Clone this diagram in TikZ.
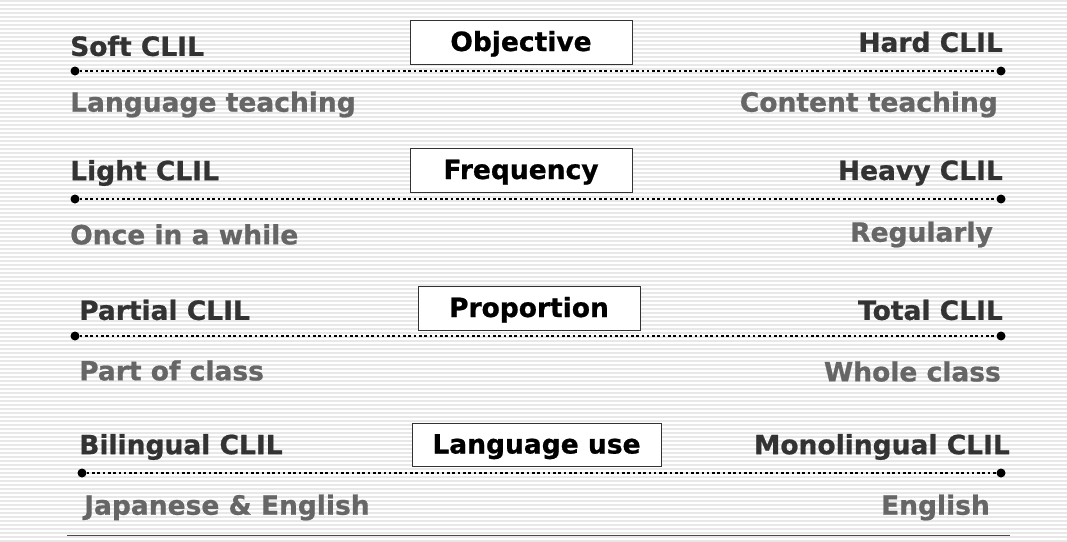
\documentclass[tikz,border=0pt]{standalone}
\usepackage{fontspec}
\setmainfont{DejaVu Sans}[BoldFeatures={FakeBold=0.8}]
\begin{document}
\begin{tikzpicture}[x=1pt,y=-1pt,
  lbl/.style={font=\bfseries\fontsize{26.5}{30}\selectfont, text=black!80, inner sep=0pt, yshift=-2pt},
  sub/.style={font=\bfseries\fontsize{26.5}{30}\selectfont, text=black!60, inner sep=0pt, yshift=-2.5pt},
  cat/.style={draw=black!80, line width=0.8pt, fill=white, font=\bfseries\fontsize{26.5}{30}\selectfont, text=black, inner sep=0pt, text depth=0pt, text height=18pt},
  dotline/.style={line width=2.6pt, dash pattern=on 2.6pt off 2.7pt, black},
  enddot/.style={circle, fill=black, inner sep=0pt, minimum size=9pt}]
\useasboundingbox (0,0) rectangle (1067,541);
\fill[white] (0,0) rectangle (1067,541);
\foreach \i in {0,...,135} {
  \draw[black!9, line width=1.5pt] (0,\i*4+1) -- (1067,\i*4+1);
}
% Row 1
\node[cat, minimum width=222pt, minimum height=44pt] (b1) at (521,42) {Objective};
\node[lbl, anchor=west] (l1) at (70,44) {Soft CLIL};
\node[lbl, anchor=east] (r1) at (1003,40) {Hard CLIL};
\node[enddot] (a1) at (75,71) {};
\node[enddot] (e1) at (1001,71) {};
\draw[dotline] (a1) -- (e1);
\node[sub, anchor=west] (s1) at (70,102) {Language teaching};
\node[sub, anchor=east] (t1) at (998,102) {Content teaching};
% Row 2
\node[cat, minimum width=222pt, minimum height=44pt] (b2) at (521,170) {Frequency};
\node[lbl, anchor=west] (l2) at (70,171) {Light CLIL};
\node[lbl, anchor=east] (r2) at (1003,171) {Heavy CLIL};
\node[enddot] (a2) at (75,199) {};
\node[enddot] (e2) at (1001,199) {};
\draw[dotline] (a2) -- (e2);
\node[sub, anchor=west] (s2) at (70,232) {Once in a while};
\node[sub, anchor=east] (t2) at (993,232) {Regularly};
% Row 3
\node[cat, minimum width=222pt, minimum height=44pt] (b3) at (529,308) {Proportion};
\node[lbl, anchor=west] (l3) at (79,308) {Partial CLIL};
\node[lbl, anchor=east] (r3) at (1003,308) {Total CLIL};
\node[enddot] (a3) at (75,336) {};
\node[enddot] (e3) at (1001,336) {};
\draw[dotline] (a3) -- (e3);
\node[sub, anchor=west] (s3) at (79,368) {Part of class};
\node[sub, anchor=east] (t3) at (1001,369) {Whole class};
% Row 4
\node[cat, minimum width=249pt, minimum height=43pt] (b4) at (536.5,444.5) {Language use};
\node[lbl, anchor=west] (l4) at (79,445) {Bilingual CLIL};
\node[lbl, anchor=east] (r4) at (1010,445) {Monolingual CLIL};
\node[enddot] (a4) at (82,473) {};
\node[enddot] (e4) at (1001,473) {};
\draw[dotline] (a4) -- (e4);
\node[sub, anchor=west] (s4) at (84,505) {Japanese \& English};
\node[sub, anchor=east] (t4) at (990,505) {English};
% bottom rule
\coordinate (bl) at (67,535);
\coordinate (br) at (1010,535);
\draw[black!70, line width=1pt] (bl) -- (br);
\end{tikzpicture}
\end{document}
